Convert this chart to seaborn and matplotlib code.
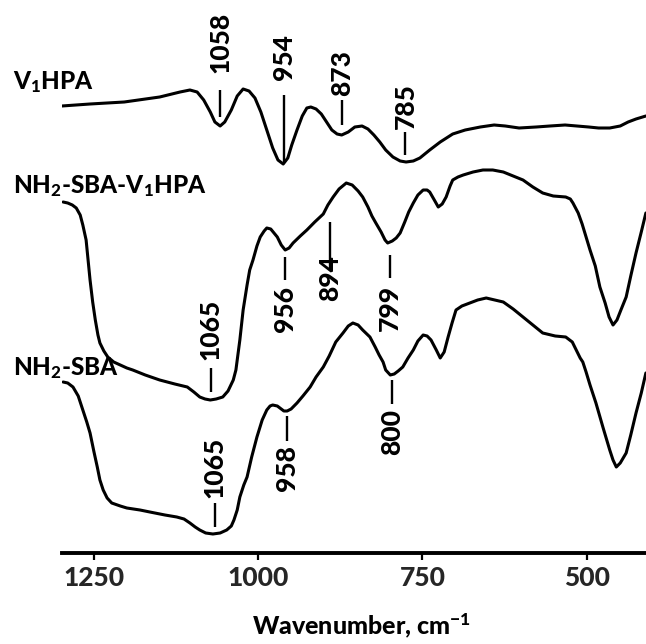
import matplotlib
matplotlib.use("Agg")
import matplotlib.pyplot as plt
import seaborn as sns
import pandas as pd

# ---------------- data ----------------
# wavenumbers (cm-1) and transmittance (arbitrary, offset) for each spectrum
v1hpa_wn = [1299, 1256, 1204, 1150, 1119, 1104, 1093, 1083, 1073, 1066,
            1058, 1051, 1041, 1032, 1023, 1014, 1005, 996, 987, 978,
            970, 962, 955, 949, 941, 933, 926, 920, 912, 904,
            897, 888, 880, 873, 863, 853, 842, 833, 824, 815,
            806, 795, 784, 775, 764, 754, 739, 723, 704, 685,
            662, 641, 624, 603, 577, 556, 533, 515, 497, 482,
            465, 449, 437, 425, 410]
v1hpa_t = [447, 449, 451, 456, 461, 463, 461, 453, 441, 431,
           427, 431, 443, 457, 464, 462, 455, 441, 423, 405,
           393, 389, 395, 408, 423, 437, 445, 446, 444, 439,
           432, 423, 419, 418, 421, 426, 427, 424, 418, 411,
           403, 396, 392, 391, 392, 395, 403, 411, 419, 423,
           426, 428, 427, 425, 426, 427, 428, 427, 426, 425,
           425, 427, 431, 434, 437]

sbav_wn = [1297, 1290, 1283, 1277, 1271, 1267, 1262, 1259, 1256, 1252,
           1248, 1244, 1241, 1235, 1229, 1220, 1210, 1200, 1191, 1172,
           1150, 1127, 1108, 1098, 1089, 1081, 1073, 1064, 1054, 1046,
           1038, 1034, 1028, 1023, 1017, 1013, 1008, 1002, 997, 991,
           987, 981, 976, 971, 965, 959, 953, 947, 936, 926,
           914, 901, 894, 886, 877, 866, 857, 848, 841, 833,
           827, 821, 813, 807, 803, 796, 790, 784, 777, 771,
           764, 757, 749, 743, 739, 732, 726, 720, 714, 708,
           704, 696, 688, 673, 658, 643, 627, 612, 597, 582,
           567, 551, 532, 525, 521, 513, 507, 501, 495, 487,
           480, 472, 466, 460, 454, 448, 440, 433, 425, 417,
           410]
sbav_t = [351, 350, 348, 345, 338, 328, 313, 293, 273, 251,
          233, 218, 210, 202, 196, 191, 188, 185, 183, 178,
          173, 169, 166, 161, 156, 154, 153, 154, 156, 162,
          173, 183, 213, 243, 268, 283, 293, 307, 316, 322,
          325, 324, 320, 316, 308, 303, 305, 310, 317, 323,
          331, 339, 348, 356, 364, 370, 368, 362, 356, 346,
          337, 330, 321, 313, 310, 312, 315, 320, 331, 341,
          350, 358, 363, 363, 361, 353, 346, 349, 356, 367,
          373, 376, 378, 381, 383, 383, 381, 377, 373, 366,
          360, 357, 356, 354, 350, 340, 329, 316, 303, 287,
          266, 250, 236, 228, 233, 243, 256, 277, 300, 321,
          340]

sba_wn = [1297, 1290, 1282, 1274, 1267, 1261, 1256, 1250, 1245, 1241,
          1236, 1230, 1223, 1210, 1200, 1180, 1165, 1142, 1124, 1113,
          1104, 1096, 1089, 1080, 1069, 1058, 1048, 1041, 1037, 1032,
          1028, 1022, 1017, 1010, 1002, 994, 987, 982, 978, 971,
          967, 961, 956, 950, 941, 932, 921, 912, 901, 892,
          882, 871, 863, 856, 848, 841, 830, 822, 816, 810,
          806, 799, 793, 787, 780, 772, 764, 757, 749, 743,
          737, 729, 723, 717, 711, 705, 699, 690, 678, 666,
          653, 640, 627, 612, 597, 582, 567, 548, 532, 522,
          516, 510, 506, 501, 495, 486, 475, 465, 460, 455,
          449, 440, 433, 425, 417, 410]
sba_t = [171, 170, 166, 157, 143, 131, 120, 101, 86, 73,
         63, 55, 50, 47, 45, 43, 41, 38, 36, 34,
         30, 26, 23, 20, 19, 20, 23, 27, 33, 43,
         56, 68, 76, 96, 116, 133, 143, 147, 148, 147,
         145, 142, 142, 144, 150, 157, 166, 176, 186, 197,
         211, 220, 227, 230, 228, 223, 216, 206, 198, 191,
         183, 178, 179, 182, 186, 195, 203, 212, 218, 217,
         213, 203, 195, 201, 216, 230, 243, 247, 250, 253,
         255, 253, 251, 244, 236, 228, 220, 217, 216, 211,
         203, 195, 191, 181, 168, 150, 125, 103, 93, 86,
         90, 100, 118, 140, 160, 180]

series_names = ["V$_1$HPA", "NH$_2$-SBA-V$_1$HPA", "NH$_2$-SBA"]

# peak annotations: label text
peak_labels = ["1058", "954", "873", "785",
               "1065", "956", "894", "799",
               "1065", "958", "800"]
x_ticks = [1250, 1000, 750, 500]
x_label = "Wavenumber, cm$^{-1}$"

# ---------------- positions / styling ----------------
# annotation placement: x (cm-1), line from y0 to y1, text centre y
peak_x = [1058, 961, 872, 776,
          1072, 959, 891, 799,
          1066, 956, 796]
peak_line = [(463, 436), (458, 390), (453, 428), (421, 398),
             (185, 161), (296, 273), (331, 283), (298, 275),
             (50, 26), (137, 112), (173, 149)]
peak_text_y = [511, 496, 480, 447,
               224, 244, 275, 245,
               86, 85, 121]
name_pos = [(1374, 464), (1374, 360), (1374, 178)]

FW = 900  # heavy weight

sns.set_theme(style="white")
plt.rcParams["font.family"] = ["Lato", "DejaVu Sans"]
plt.rcParams["font.weight"] = FW
plt.rcParams["mathtext.fontset"] = "custom"
plt.rcParams["mathtext.rm"] = "Lato:black"
plt.rcParams["mathtext.it"] = "Lato:black"
plt.rcParams["mathtext.bf"] = "Lato:black"

fig = plt.figure(figsize=(6.46, 6.44), dpi=100)
ax = fig.add_axes([62 / 646, 91 / 644, 584 / 646, 553 / 644])

frames = [
    pd.DataFrame({"wn": v1hpa_wn, "t": v1hpa_t}),
    pd.DataFrame({"wn": sbav_wn, "t": sbav_t}),
    pd.DataFrame({"wn": sba_wn, "t": sba_t}),
]
for df in frames:
    sns.lineplot(data=df, x="wn", y="t", ax=ax, color="black", lw=2.2,
                 estimator=None, sort=False)
for line in ax.lines:
    line.set_solid_joinstyle("round")
    line.set_solid_capstyle("round")

ax.set_xlim(1298.7, 409.8)
ax.set_ylim(0, 553)

for s in ["top", "right", "left"]:
    ax.spines[s].set_visible(False)
ax.spines["bottom"].set_linewidth(2.8)
ax.spines["bottom"].set_color("black")
ax.set_yticks([])
ax.set_xticks(x_ticks)
ax.set_xticklabels([str(t) for t in x_ticks])
ax.tick_params(axis="x", direction="out", length=5, width=1.6, color="black",
               labelsize=19, pad=4, bottom=True)
for lab in ax.get_xticklabels():
    lab.set_fontweight(FW)
ax.set_xlabel(x_label, fontsize=18, fontweight=FW, color="black")
ax.xaxis.set_label_coords(0.513, -0.105)
ax.set_ylabel("")

for txt, px, (y0, y1), ty in zip(peak_labels, peak_x, peak_line, peak_text_y):
    ax.plot([px, px], [y0, y1], color="black", lw=1.7, solid_capstyle="butt")
    ax.text(px, ty, txt, rotation=90, ha="center", va="center",
            fontsize=19, fontweight=FW, color="black")

for name, (nx, ny) in zip(series_names, name_pos):
    ax.text(nx, ny, name, ha="left", va="baseline", fontsize=17.5,
            fontweight=FW, color="black", clip_on=False)

fig.savefig("out.png", dpi=100, facecolor="white")
